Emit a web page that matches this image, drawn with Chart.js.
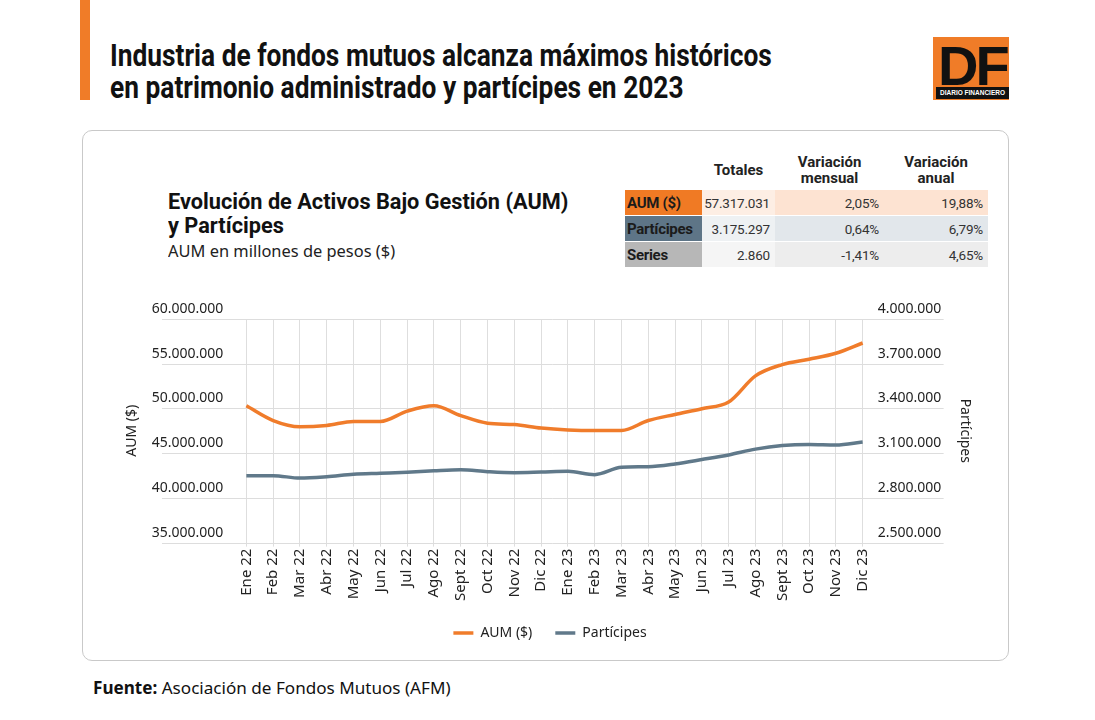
<!DOCTYPE html>
<html lang="es">
<head>
<meta charset="utf-8">
<title>Fondos mutuos AUM y Partícipes</title>
<script src="https://cdn.jsdelivr.net/npm/chart.js@4.4.0/dist/chart.umd.min.js"></script>
<style>
  body { margin: 0; width: 1095px; height: 720px; background: #fff; position: relative; overflow: hidden;
         font-family: "Noto Sans", "Open Sans", sans-serif; color: #1a1a1a; }
  .barra { position: absolute; left: 80px; top: 0; width: 10px; height: 100px; background: #f07c28; }
  .fit { position: absolute; white-space: nowrap; transform-origin: 0 0; }
  .titulo { font-family: Roboto, sans-serif; font-weight: 700; font-size: 31px; line-height: 32px; color: #111; }
  .logo { position: absolute; left: 933px; top: 37px; width: 76px; height: 63px; background: #f07c28; }
  .logo .df { position: absolute; left: 5px; top: -4px; font-family: "Liberation Sans", Arial, sans-serif; font-weight: 700;
              font-size: 56px; letter-spacing: -3px; color: #111; }
  .logo .tira { position: absolute; left: 3px; top: 50px; width: 73px; height: 12px; background: #111; color: #fff;
                font-family: "Liberation Sans", Arial, sans-serif; font-weight: 700; font-size: 6.5px; line-height: 12px; padding-left: 4px; box-sizing: border-box; }
  .card { position: absolute; left: 82px; top: 130px; width: 925px; height: 529px; border: 1px solid #c9c9c9; border-radius: 10px; }
  .subt { font-family: Roboto, sans-serif; font-weight: 700; font-size: 22px; line-height: 24px; color: #111; }
  .bajada { font-size: 17px; line-height: 20px; color: #222; }
  table { position: absolute; left: 625px; top: 150px; width: 363px; table-layout: fixed; border-collapse: collapse;
          font-family: Roboto, sans-serif; font-size: 13.5px; color: #333; }
  th { font-family: Roboto, sans-serif; font-weight: 700; font-size: 15px; line-height: 16px; color: #222; height: 40px; vertical-align: middle; padding: 0; }
  td { height: 25px; padding: 0 5px 0 0; text-align: right; border-bottom: 1px solid #fff; white-space: nowrap; letter-spacing: -0.2px; }
  td.lab { text-align: left; font-weight: 700; font-size: 15px; color: #1b1b1b; padding: 0 2px; letter-spacing: -0.3px; }
  .fuente { font-size: 17px; color: #111; }
  #cont { position: absolute; left: 110px; top: 292px; width: 880px; height: 358px; }
</style>
</head>
<body>
<div class="barra"></div>
<div class="fit titulo" id="t1" style="left:110px; top:40px;">Industria de fondos mutuos alcanza máximos históricos</div>
<div class="fit titulo" id="t2" style="left:110px; top:72px;">en patrimonio administrado y partícipes en 2023</div>

<div class="logo"><div class="df">DF</div><div class="tira">DIARIO FINANCIERO</div></div>

<div class="card"></div>
<div class="fit subt" id="s1" style="left:168px; top:190px;">Evolución de Activos Bajo Gestión (AUM)</div>
<div class="fit subt" id="s2" style="left:168px; top:214px;">y Partícipes</div>
<div class="fit bajada" id="s3" style="left:168px; top:241px;">AUM en millones de pesos ($)</div>

<table>
  <colgroup><col style="width:77px"><col style="width:73px"><col style="width:109px"><col style="width:104px"></colgroup>
  <tr><th></th><th>Totales</th><th>Variación<br>mensual</th><th>Variación<br>anual</th></tr>
  <tr style="background:#fde3d2"><td class="lab" style="background:#f07a24">AUM ($)</td><td style="background:#fdeee4">57.317.031</td><td>2,05%</td><td>19,88%</td></tr>
  <tr style="background:#e2e7eb"><td class="lab" style="background:#5e7587">Partícipes</td><td style="background:#eef1f3">3.175.297</td><td>0,64%</td><td>6,79%</td></tr>
  <tr style="background:#ededed"><td class="lab" style="background:#b7b7b7">Series</td><td style="background:#f5f5f5">2.860</td><td>-1,41%</td><td>4,65%</td></tr>
</table>

<div id="cont"><canvas id="grafico"></canvas></div>

<div class="fit fuente" id="f1" style="left:93px; top:676px;"><b>Fuente:</b> Asociación de Fondos Mutuos (AFM)</div>

<script>
// datos
const meses = ["Ene 22", "Feb 22", "Mar 22", "Abr 22", "May 22", "Jun 22", "Jul 22", "Ago 22", "Sept 22", "Oct 22", "Nov 22", "Dic 22",
               "Ene 23", "Feb 23", "Mar 23", "Abr 23", "May 23", "Jun 23", "Jul 23", "Ago 23", "Sept 23", "Oct 23", "Nov 23", "Dic 23"];
const aum = [50300000, 48650000, 47950000, 48100000, 48550000, 48550000, 49700000, 50300000, 49200000, 48350000, 48200000, 47810000,
             47600000, 47530000, 47530000, 48650000, 49330000, 49970000, 50720000, 53640000, 54900000, 55500000, 56170000, 57317031];
const participes = [2949000, 2949000, 2933000, 2942000, 2958000, 2965000, 2972000, 2982000, 2989000, 2976000, 2969000, 2973000,
                    2978000, 2956000, 3005000, 3009000, 3028000, 3057000, 3088000, 3127000, 3151000, 3158000, 3155000, 3175297];
const ticksAum = [35000000, 40000000, 45000000, 50000000, 55000000, 60000000];
const ticksPart = [2500000, 2800000, 3100000, 3400000, 3700000, 4000000];

const puntos = n => String(n).replace(/\B(?=(\d{3})+(?!\d))/g, ".");

// ajusta el ancho de los textos condensados
function ajustar(id, ancho) {
  const el = document.getElementById(id);
  const k = ancho / el.scrollWidth;
  el.style.transform = "scaleX(" + k + ")";
  return k;
}

// lineas horizontales que pasan bajo las etiquetas, como en el original
const lineasH = {
  id: "lineasH",
  beforeDatasetsDraw(chart) {
    const ctx = chart.ctx, y = chart.scales.y, y1 = chart.scales.y1;
    ctx.save();
    ctx.strokeStyle = "#dddddd";
    ctx.lineWidth = 1;
    y.ticks.forEach(t => {
      const py = Math.round(y.getPixelForValue(t.value)) + 0.5;
      ctx.beginPath();
      ctx.moveTo(y.left + 42, py);
      ctx.lineTo(y1.left + 81, py);
      ctx.stroke();
    });
    ctx.restore();
  }
};

document.fonts.ready.then(() => {
  const k = ajustar("t1", 662);
  document.getElementById("t2").style.transform = "scaleX(" + k + ")";
  const k2 = ajustar("s1", 400);
  document.getElementById("s2").style.transform = "scaleX(" + k2 + ")";
  ajustar("s3", 227);
  ajustar("f1", 358);

  Chart.defaults.font.family = '"Noto Sans", sans-serif';
  Chart.defaults.font.size = 14;
  Chart.defaults.color = "#333";

  new Chart(document.getElementById("grafico"), {
    type: "line",
    data: {
      labels: meses,
      datasets: [{
        label: "AUM ($)",
        data: aum,
        yAxisID: "y",
        borderColor: "#f07c2b",
        backgroundColor: "#f07c2b",
        borderWidth: 3.5,
        pointRadius: 0,
        cubicInterpolationMode: "monotone",
        fill: false,
      }, {
        label: "Partícipes",
        data: participes,
        yAxisID: "y1",
        borderColor: "#60798a",
        backgroundColor: "#60798a",
        borderWidth: 3.5,
        pointRadius: 0,
        cubicInterpolationMode: "monotone",
        fill: false,
      }]
    },
    options: {
      responsive: true,
      maintainAspectRatio: false,
      animation: false,
      devicePixelRatio: 1,
      layout: { padding: { top: 27, left: 10, right: 10, bottom: 0 } },
      plugins: {
        tooltip: { enabled: false },
        legend: {
          position: "bottom",
          labels: { usePointStyle: true, pointStyle: "line", pointStyleWidth: 20, boxHeight: 10, padding: 23, color: "#222" }
        }
      },
      scales: {
        x: {
          grid: { color: "#dedede", tickLength: 4 },
          border: { display: false },
          ticks: { minRotation: 90, maxRotation: 90, autoSkip: false, padding: 2, color: "#222", font: { size: 15 } }
        },
        y: {
          position: "left",
          min: ticksAum[0], max: ticksAum[ticksAum.length - 1],
          afterBuildTicks: s => { s.ticks = ticksAum.map(v => ({ value: v })); },
          grid: { display: false, drawTicks: true, tickLength: 13 },
          border: { display: false },
          ticks: { callback: v => puntos(v), labelOffset: -10, padding: 10, color: "#222" },
          title: { display: true, text: "AUM ($)", color: "#222", padding: { top: 4, bottom: 1 } }
        },
        y1: {
          position: "right",
          min: ticksPart[0], max: ticksPart[ticksPart.length - 1],
          afterBuildTicks: s => { s.ticks = ticksPart.map(v => ({ value: v })); },
          grid: { display: false, drawTicks: true, tickLength: 7 },
          border: { display: false },
          ticks: { callback: v => puntos(v), labelOffset: -10, padding: 8, color: "#222" },
          title: { display: true, text: "Partícipes", color: "#222", padding: { top: 7, bottom: 7 } }
        }
      }
    },
    plugins: [lineasH]
  });
});
</script>
</body>
</html>
